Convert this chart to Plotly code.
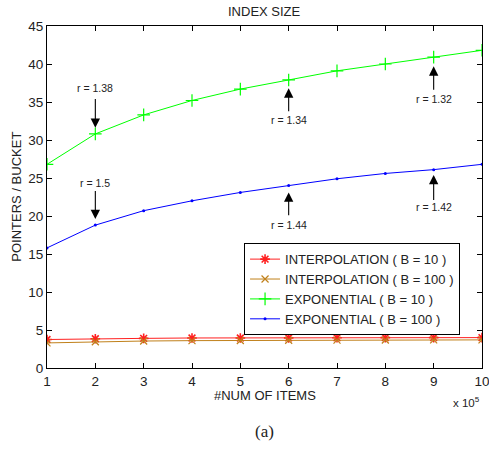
import plotly.graph_objects as go

items = [1, 2, 3, 4, 5, 6, 7, 8, 9, 10]
interp_b10 = [3.75, 3.85, 3.9, 3.95, 3.95, 3.97, 3.98, 4.0, 4.0, 4.0]
interp_b100 = [3.3, 3.45, 3.55, 3.6, 3.62, 3.65, 3.67, 3.68, 3.7, 3.7]
expo_b10 = [26.8, 30.8, 33.3, 35.2, 36.7, 37.9, 39.1, 40.0, 40.9, 41.8]
expo_b100 = [15.8, 18.8, 20.7, 22.0, 23.1, 24.0, 24.9, 25.6, 26.1, 26.8]

names = ["INTERPOLATION ( B = 10 )", "INTERPOLATION ( B = 100 )",
         "EXPONENTIAL ( B = 10 )", "EXPONENTIAL ( B = 100 )"]

# annotations: (x, tip_y, tail_y, text_y, label)
arrow_x = [2, 2, 6, 9, 6, 9]
arrow_tip = [31.6, 19.6, 36.8, 39.7, 23.1, 25.4]
arrow_tail = [35.6, 23.5, 33.6, 36.4, 19.9, 21.9]
label_y = [36.9, 24.4, 32.6, 35.4, 18.8, 21.2]
labels = ["r = 1.38", "r = 1.5", "r = 1.34", "r = 1.32", "r = 1.44", "r = 1.42"]

FONT = "Arial"
TXT = "#222222"

fig = go.Figure()
fig.add_trace(go.Scatter(x=items, y=interp_b10, name=names[0], mode="lines+markers",
                         line=dict(color="#FF2020", width=1),
                         marker=dict(symbol="asterisk-open", size=8,
                                     line=dict(color="#FF0000", width=1.6))))
fig.add_trace(go.Scatter(x=items, y=interp_b100, name=names[1], mode="lines+markers",
                         line=dict(color="#C0801A", width=1),
                         marker=dict(symbol="x-thin-open", size=7,
                                     line=dict(color="#C0801A", width=1.2))))
fig.add_trace(go.Scatter(x=items, y=expo_b10, name=names[2], mode="lines+markers",
                         line=dict(color="#00FF00", width=1),
                         marker=dict(symbol="cross-thin-open", size=9,
                                     line=dict(color="#00FF00", width=1.2))))
fig.add_trace(go.Scatter(x=items, y=expo_b100, name=names[3], mode="lines+markers",
                         line=dict(color="#0000FF", width=1),
                         marker=dict(symbol="circle", size=3, color="#0000FF")))

annotations = []
for x, tip, tail, ly, lab in zip(arrow_x, arrow_tip, arrow_tail, label_y, labels):
    annotations.append(dict(x=x, y=tip, ax=x, ay=tail, xref="x", yref="y",
                            axref="x", ayref="y", text="", showarrow=True,
                            arrowhead=2, arrowsize=1.7, arrowwidth=1.1,
                            arrowcolor="black"))
    annotations.append(dict(x=x, y=ly, xref="x", yref="y", text=lab,
                            showarrow=False, font=dict(size=10.5, color=TXT,
                                                       family=FONT)))

# x multiplier
annotations.append(dict(x=0.964, y=-0.1, xref="paper", yref="paper",
                        text="x 10<sup>5</sup>", showarrow=False,
                        xanchor="center", yanchor="middle",
                        font=dict(size=11.5, color=TXT, family=FONT)))
# axis titles
annotations.append(dict(x=0.5, y=-0.08, xref="paper", yref="paper",
                        text="#NUM OF ITEMS", showarrow=False,
                        xanchor="center", yanchor="middle",
                        font=dict(size=13, color=TXT, family=FONT)))
annotations.append(dict(x=-0.072, y=0.5, xref="paper", yref="paper",
                        text="POINTERS / BUCKET", showarrow=False, textangle=-90,
                        xanchor="center", yanchor="middle",
                        font=dict(size=13, color=TXT, family=FONT)))
annotations.append(dict(x=0.5, y=-0.187, xref="paper", yref="paper",
                        text="(a)", showarrow=False, yanchor="middle",
                        font=dict(size=17, color=TXT,
                                  family="Liberation Serif, DejaVu Serif, serif")))
# title
annotations.append(dict(x=0.5, y=1.043, xref="paper", yref="paper",
                        text="INDEX SIZE", showarrow=False, yanchor="middle",
                        font=dict(size=13, color=TXT, family=FONT)))

axis_common = dict(showline=True, linecolor="black", linewidth=1, mirror="ticks",
                   ticks="inside", ticklen=5, tickcolor="black", showgrid=False,
                   zeroline=False, ticklabeloverflow="allow", automargin=False,
                   tickfont=dict(size=13.5, color=TXT, family=FONT))

fig.update_layout(
    template="none",
    width=489, height=453,
    margin=dict(l=47, r=7, t=26, b=85, autoexpand=False),
    paper_bgcolor="white", plot_bgcolor="white",
    font=dict(family=FONT, color=TXT),
    xaxis=dict(range=[1, 10], tickvals=items, ticklabelstandoff=1, **axis_common),
    yaxis=dict(range=[0, 45], tickvals=list(range(0, 46, 5)), **axis_common),
    legend=dict(x=0.453, y=0.365, xanchor="left", yanchor="top",
                bgcolor="white", bordercolor="black", borderwidth=1,
                font=dict(size=13, color=TXT, family=FONT),
                tracegroupgap=0),
    showlegend=True,
    annotations=annotations,
)

fig.write_html("out.html", config={"displayModeBar": False},
               post_script="document.body.style.margin='0';document.body.style.overflow='hidden';")
